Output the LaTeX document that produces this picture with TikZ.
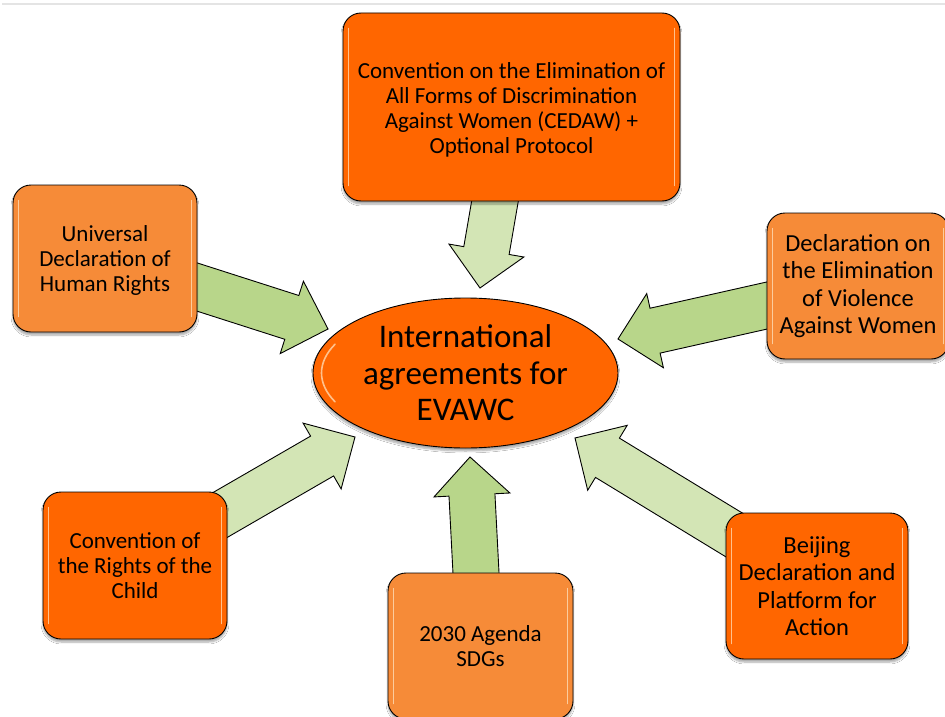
\documentclass[tikz,border=0pt]{standalone}
\usepackage{fontspec}
\setmainfont{Carlito}
\usetikzlibrary{calc,shapes.geometric,shadows.blur}
\definecolor{darkor}{HTML}{FF6600}
\definecolor{lightor}{HTML}{F68B38}
\definecolor{palegreen}{HTML}{D3E5B5}
\definecolor{midgreen}{HTML}{B8D68A}
\definecolor{topline}{HTML}{E4E4E4}
\definecolor{shine}{HTML}{FFE9C8}
\tikzset{
  box/.style={draw=black, line width=0.9pt, rounded corners=18pt, align=center, inner sep=0pt,
    blur shadow={shadow xshift=0pt, shadow yshift=-3pt, shadow blur steps=6, shadow opacity=35}},
  smalltext/.style={font=\fontsize{23}{25}\selectfont},
  bigtext/.style={font=\fontsize{24.5}{27.5}\selectfont},
  centertext/.style={font=\fontsize{33}{36.5}\selectfont},
  blockarr/.style={draw=black, line width=0.9pt, line join=miter},
  hilite/.style={draw=shine, draw opacity=0.7, line width=1.6pt, line cap=round},
}
\newcommand{\blockarrow}[3]{%
  \coordinate (ba-s) at ($(#1)!-20pt!(#2)$);
  \coordinate (ba-h) at ($(#2)!38pt!(#1)$);
  \draw[blockarr, fill=#3]
    ($(ba-s)!23pt!90:(#2)$) -- ($(ba-h)!23pt!90:(#2)$) -- ($(ba-h)!38pt!90:(#2)$) --
    (#2) --
    ($(ba-h)!38pt!-90:(#2)$) -- ($(ba-h)!23pt!-90:(#2)$) -- ($(ba-s)!23pt!-90:(#2)$) -- cycle;
}
\newcommand{\boxshine}[1]{%
  \draw[hilite] ($(#1.north west)+(6,16)$) -- ($(#1.south west)+(6,-16)$);
  \draw[hilite] ($(#1.north east)+(-6,16)$) -- ($(#1.south east)+(-6,-16)$);
}
\begin{document}
\begin{tikzpicture}[x=1pt, y=-1pt]
\useasboundingbox (0,0) rectangle (945,717);
\fill[white] (0,0) rectangle (945,717);
\coordinate (tl1) at (2,4);
\coordinate (tl2) at (945,4);
\draw[topline, line width=2pt] (tl1) -- (tl2);

% arrow end points
\coordinate (e1) at (495,201);   \coordinate (t1) at (480,288);
\coordinate (e2) at (197,287);   \coordinate (t2) at (328,329);
\coordinate (e3) at (767,305.5); \coordinate (t3) at (618,339);
\coordinate (e4) at (227,511);   \coordinate (t4) at (355,437);
\coordinate (e5) at (476,573);   \coordinate (t5) at (470,457);
\coordinate (e6) at (726,530);   \coordinate (t6) at (575,438);

\blockarrow{e1}{t1}{palegreen}
\blockarrow{e2}{t2}{midgreen}
\blockarrow{e3}{t3}{midgreen}
\blockarrow{e4}{t4}{palegreen}
\blockarrow{e5}{t5}{midgreen}
\blockarrow{e6}{t6}{palegreen}

\node[box, fill=darkor, smalltext, minimum width=337pt, minimum height=188pt] (cedaw) at (511.5,107)
  {\rule{0pt}{22pt}Convention on the Elimination of\\All Forms of Discrimination\\Against Women (CEDAW) +\\Optional Protocol};
\boxshine{cedaw}
\node[box, fill=lightor, smalltext, minimum width=184pt, minimum height=147pt] (udhr) at (105,258.5)
  {\rule{0pt}{19pt}Universal\\Declaration of\\Human Rights};
\boxshine{udhr}
\node[box, fill=lightor, bigtext, minimum width=182pt, minimum height=146pt] (devaw) at (858,286)
  {Declaration on\\the Elimination\\of Violence\\Against Women};
\boxshine{devaw}
\node[box, fill=darkor, smalltext, minimum width=184pt, minimum height=147pt] (crc) at (135,565.5)
  {Convention of\\the Rights of the\\Child};
\boxshine{crc}
\node[box, fill=lightor, smalltext, minimum width=185pt, minimum height=146pt] (sdg) at (480.5,646)
  {2030 Agenda\\SDGs};
\boxshine{sdg}
\node[box, fill=darkor, bigtext, minimum width=182pt, minimum height=146pt] (beijing) at (817,586)
  {Beijing\\Declaration and\\Platform for\\Action};
\boxshine{beijing}

\node[ellipse, draw=black, line width=0.9pt, fill=darkor, centertext, align=center, inner sep=0pt,
  minimum width=305pt, minimum height=150pt,
  blur shadow={shadow xshift=0pt, shadow yshift=-3pt, shadow blur steps=6, shadow opacity=35}] (center) at (465.5,373)
  {International\\agreements for\\EVAWC};
\draw[hilite] ($(center.center)+({144*cos(155)},{68*sin(155)})$) arc[start angle=155, end angle=205, x radius=144, y radius=68];
\end{tikzpicture}
\end{document}
